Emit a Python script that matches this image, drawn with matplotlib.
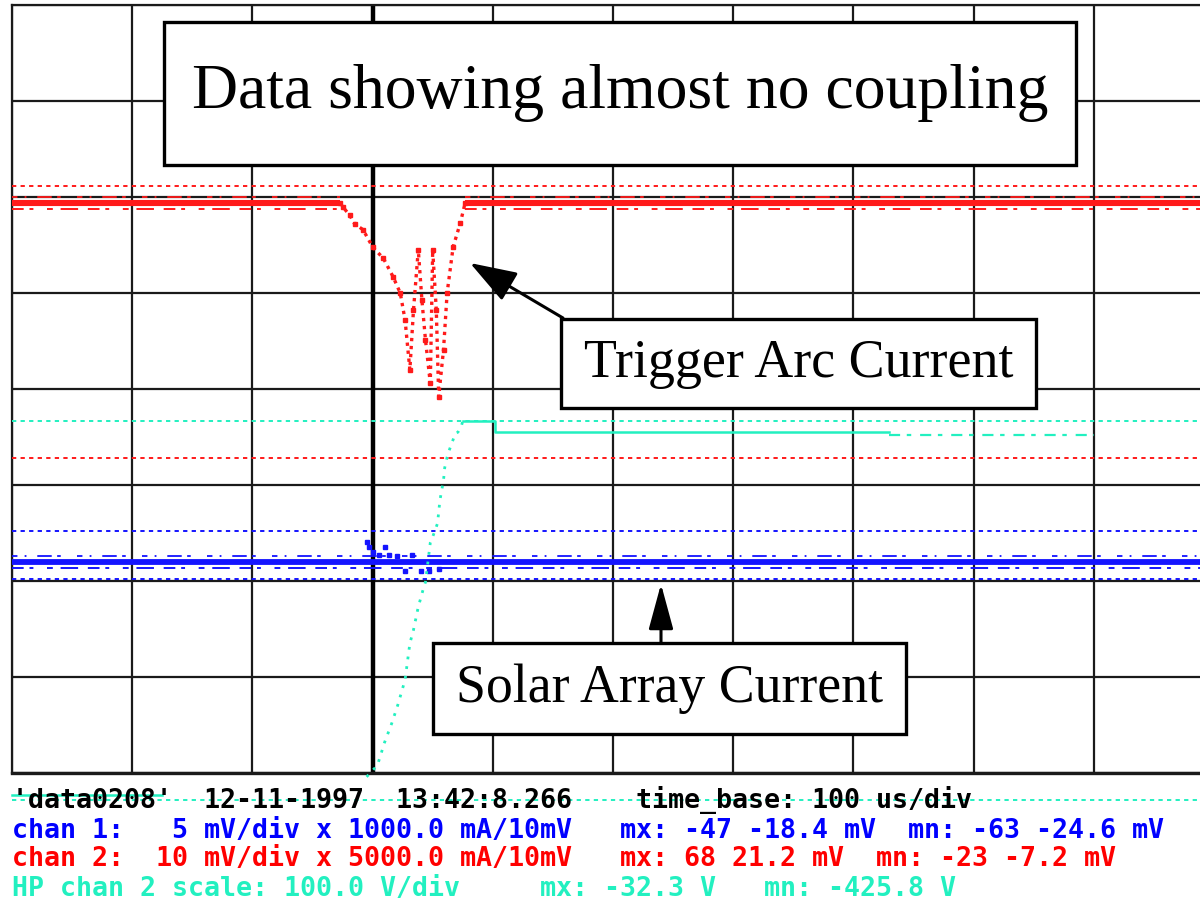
import matplotlib
matplotlib.use('Agg')
import matplotlib.pyplot as plt
from matplotlib.patches import Rectangle

W, H, DPI = 1200, 900, 100

# ---------------- data (oscilloscope divisions: x = time div, y = vertical div) -------------
# chan 2 (red): trigger arc current
red_left_t = [0.0, 2.73]
red_left_v = [5.94, 5.94]
red_dip_t = [2.73, 2.75, 2.81, 2.85, 2.92, 3.00, 3.09, 3.17, 3.23, 3.27, 3.31, 3.34,
             3.38, 3.41, 3.44, 3.48, 3.50, 3.53, 3.55, 3.59, 3.62, 3.67, 3.73, 3.77]
red_dip_v = [5.94, 5.90, 5.81, 5.72, 5.66, 5.48, 5.36, 5.17, 5.00, 4.72, 4.20, 4.82,
             5.45, 4.93, 4.51, 4.06, 5.45, 4.82, 3.92, 4.41, 5.00, 5.48, 5.73, 5.94]
red_right_t = [3.77, 10.0]
red_right_v = [5.94, 5.94]
red_ref_levels = [6.115, 3.28]

# chan 1 (blue): solar array current
blue_t = [0.0, 10.0]
blue_v = [2.20, 2.20]
blue_bump_t = [2.95, 2.97, 3.00, 3.05, 3.10, 3.14, 3.20, 3.27, 3.33, 3.40, 3.47, 3.55]
blue_bump_v = [2.41, 2.35, 2.30, 2.27, 2.35, 2.27, 2.26, 2.10, 2.27, 2.10, 2.10, 2.12]
blue_ref_levels = [2.52, 2.02]

# HP chan 2 (green): arc voltage
green_pre_t = [0.0, 1.25]
green_pre_v = [-0.23, -0.23]
green_rise_t = [2.95, 3.04, 3.10, 3.16, 3.21, 3.27, 3.31, 3.34, 3.38, 3.42, 3.44, 3.48,
                3.50, 3.54, 3.56, 3.59, 3.60, 3.62, 3.64, 3.66, 3.69, 3.71, 3.74, 3.75]
green_rise_v = [-0.04, 0.08, 0.32, 0.52, 0.71, 0.97, 1.35, 1.49, 1.73, 1.91, 1.99, 2.40,
                2.46, 2.60, 2.84, 3.05, 3.18, 3.29, 3.37, 3.44, 3.54, 3.55, 3.62, 3.667]
green_plat_t = [3.75, 4.02, 4.02, 7.30]
green_plat_v = [3.667, 3.667, 3.55, 3.55]
green_tail_t = [7.30, 9.00]
green_tail_v = [3.52, 3.52]
green_ref_levels = [3.667, -0.28]

n_xdiv, n_ydiv = 10, 8

info_black = "'data0208'  12-11-1997  13:42:8.266    time_base: 100 us/div"
info_blue = "chan 1:   5 mV/div x 1000.0 mA/10mV   mx: -47 -18.4 mV  mn: -63 -24.6 mV"
info_red = "chan 2:  10 mV/div x 5000.0 mA/10mV   mx: 68 21.2 mV  mn: -23 -7.2 mV"
info_green = "HP chan 2 scale: 100.0 V/div     mx: -32.3 V   mn: -425.8 V"

RED, BLUE, GREEN = '#ff1a1a', '#1414ff', '#22f0c0'

# ---------------- figure ----------------
fig = plt.figure(figsize=(W / DPI, H / DPI), dpi=DPI)
ax = fig.add_axes([12 / W, 127 / H, 1202 / W, 768 / H])
ax.set_xlim(0, n_xdiv)
ax.set_ylim(0, n_ydiv)
ax.set_xticks(range(n_xdiv + 1))
ax.set_yticks(range(n_ydiv + 1))
ax.tick_params(length=0, labelbottom=False, labelleft=False)
ax.grid(True, color='#1a1a1a', lw=1.6)
for s in ax.spines.values():
    s.set_color('#1a1a1a')
    s.set_linewidth(1.6)
ax.spines['bottom'].set_linewidth(2.4)
ax.axvline(3, color='black', lw=3.2, zorder=2)

dash = (0, (2.2, 2.2))
for lv in red_ref_levels:
    ax.axhline(lv, color=RED, lw=1.4, ls=dash, zorder=3)
for lv in blue_ref_levels:
    ax.axhline(lv, color=BLUE, lw=1.4, ls=dash, zorder=3)
for lv in green_ref_levels:
    ax.plot([0, n_xdiv], [lv, lv], color=GREEN, lw=1.4, ls=dash, zorder=3, clip_on=False)

noise_up = (0, (3, 4, 1, 6, 8, 3, 2, 9))
noise_dn = (0, (6, 3, 2, 7, 3, 4, 9, 5))

# red trace
for tt, vv in ((red_left_t, red_left_v), (red_right_t, red_right_v)):
    ax.plot(tt, vv, color=RED, lw=4.4, zorder=4, solid_capstyle='butt')
    ax.plot(tt, [v + 0.055 for v in vv], color=RED, lw=1.3, ls=noise_up, zorder=4)
    ax.plot(tt, [v - 0.07 for v in vv], color=RED, lw=1.4, ls=noise_dn, zorder=4)
ax.plot(red_dip_t, red_dip_v, color=RED, lw=2.4, ls=(0, (1, 1.4)), zorder=4)
ax.plot(red_dip_t, red_dip_v, color=RED, ls='none', marker='s', ms=2.4, zorder=4)

# blue trace
ax.plot(blue_t, blue_v, color=BLUE, lw=4.2, zorder=4, solid_capstyle='butt')
ax.plot(blue_t, [v + 0.06 for v in blue_v], color=BLUE, lw=1.3, ls=noise_up, zorder=4)
ax.plot(blue_t, [v - 0.065 for v in blue_v], color=BLUE, lw=1.4, ls=noise_dn, zorder=4)
ax.plot(blue_bump_t, blue_bump_v, color=BLUE, ls='none', marker='s', ms=3, zorder=4)

# green trace
ax.plot(green_pre_t, green_pre_v, color=GREEN, lw=1.8, zorder=4, clip_on=False)
ax.plot(green_rise_t, green_rise_v, color=GREEN, lw=2.0, ls=(0, (1, 2.5)), zorder=4, clip_on=False)
ax.plot(green_plat_t, green_plat_v, color=GREEN, lw=1.8, zorder=4)
ax.plot(green_tail_t, green_tail_v, color=GREEN, lw=1.6, ls=(0, (5, 3, 2, 4)), zorder=4)

# ---------------- annotation boxes ----------------
def px2div(px, py):
    return (px - 12) / 120.2, (773 - py) / 96.0

def add_box(x0, y0, x1, y1, text, text_w):
    (dx0, dy1), (dx1, dy0) = px2div(x0, y0), px2div(x1, y1)
    ax.add_patch(Rectangle((dx0, dy0), dx1 - dx0, dy1 - dy0, facecolor='white',
                           edgecolor='black', lw=2.4, zorder=6, clip_on=False))
    t = ax.text((dx0 + dx1) / 2, (dy0 + dy1) / 2, text, ha='center', va='center',
                family='Liberation Serif', fontsize=30, zorder=7)
    fig.canvas.draw()
    bb = t.get_window_extent(fig.canvas.get_renderer())
    t.set_fontsize(30 * text_w / bb.width)
    return t

add_box(164, 22, 1076, 165, 'Data showing almost no coupling', 858)
add_box(561, 319, 1036, 408, 'Trigger Arc Current', 428)
add_box(433, 643, 906, 734, 'Solar Array Current', 427)

arrow_kw = dict(arrowstyle='-|>,head_length=1.45,head_width=0.5', mutation_scale=20,
                color='black', lw=2.2, shrinkA=0, shrinkB=0)
ax.annotate('', xy=px2div(470, 263), xytext=px2div(563, 318), arrowprops=arrow_kw, zorder=8)
ax.annotate('', xy=px2div(661, 584), xytext=px2div(661, 643),
            arrowprops=dict(arrow_kw, arrowstyle='-|>,head_length=1.4,head_width=0.38'), zorder=8)

# ---------------- info lines ----------------
rows = [(info_black, 'black', 808), (info_blue, '#0000ff', 838),
        (info_red, '#ff0000', 866), (info_green, GREEN, 896)]
for txt, col, base in rows:
    t = fig.text(12 / W, 1 - base / H, txt, color=col, family='DejaVu Sans Mono',
                 fontweight='bold', fontsize=19, va='baseline', ha='left')
    fig.canvas.draw()
    bb = t.get_window_extent(fig.canvas.get_renderer())
    t.set_fontsize(19 * (16.0 * len(txt)) / bb.width)

fig.savefig('out.png', dpi=DPI)
